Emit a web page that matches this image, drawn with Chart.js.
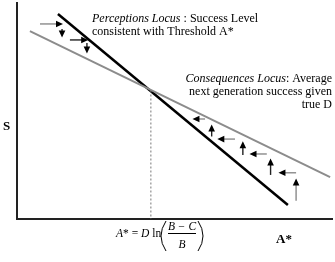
<!DOCTYPE html>
<html>
<head>
<meta charset="utf-8">
<script src="https://cdn.jsdelivr.net/npm/chart.js@4.4.1/dist/chart.umd.min.js"></script>
<style>
  html, body { margin: 0; padding: 0; background: #fff; }
  #wrap { width: 335px; height: 262px; position: relative; }
</style>
</head>
<body>
<div id="wrap"><canvas id="c"></canvas></div>
<script>
// axis range is abstract (0..100), the figure has no numeric ticks
const xRange = [0, 100];
const yRange = [0, 100];

// Perceptions locus (black) and consequences locus (gray)
const perceptX = [13.0, 86.0];
const perceptY = [94.9, 6.5];
const conseqX = [4.1, 99.4];
const conseqY = [87.0, 19.4];

// threshold A* (dotted drop line)
const thresholdX = [42.5, 42.5];
const thresholdY = [59.5, 0];

// arrows: [x0, y0, x1, y1, shaftGray]
const arrowsTop = [
  [7.3, 90.3, 14.6, 90.3, true],
  [14.3, 88.0, 14.3, 84.0, false],
  [16.8, 82.9, 22.6, 82.9, false],
  [22.2, 81.5, 22.2, 76.6, false],
];
const arrowsBottom = [
  [88.6, 8.5, 88.6, 18.8, true],
  [88.6, 21.4, 83.0, 21.4, true],
  [80.5, 20.4, 80.5, 28.0, false],
  [79.3, 30.1, 73.8, 30.1, true],
  [71.7, 29.6, 71.7, 36.0, false],
  [69.2, 37.0, 63.6, 37.0, true],
  [61.8, 38.2, 61.8, 43.8, false],
  [59.7, 46.3, 55.7, 46.3, true],
];

const serif = '"Liberation Serif", "DejaVu Serif", serif';

function pts(xs, ys) {
  return xs.map((x, i) => ({ x, y: ys[i] }));
}

function drawArrow(ctx, x0, y0, x1, y1, gray) {
  const ang = Math.atan2(y1 - y0, x1 - x0);
  const head = 7, half = 3.3;
  ctx.strokeStyle = gray ? '#8a8a8a' : '#222';
  ctx.lineWidth = 1.4;
  ctx.beginPath();
  ctx.moveTo(x0, y0);
  ctx.lineTo(x1 - Math.cos(ang) * head * 0.8, y1 - Math.sin(ang) * head * 0.8);
  ctx.stroke();
  ctx.fillStyle = '#000';
  ctx.beginPath();
  ctx.moveTo(x1, y1);
  ctx.lineTo(x1 - Math.cos(ang) * head - Math.sin(ang) * half, y1 - Math.sin(ang) * head + Math.cos(ang) * half);
  ctx.lineTo(x1 - Math.cos(ang) * head + Math.sin(ang) * half, y1 - Math.sin(ang) * head - Math.cos(ang) * half);
  ctx.closePath();
  ctx.fill();
}

function runs(ctx, parts, x, y, size) {
  // parts: [text, italic]
  let cx = x;
  parts.forEach(([t, it]) => {
    ctx.font = (it ? 'italic ' : '') + (size || 12) + 'px ' + serif;
    ctx.fillText(t, cx, y);
    cx += ctx.measureText(t).width;
  });
}

const annotations = {
  id: 'annotations',
  afterDatasetsDraw(chart) {
    const { ctx, scales: { x, y } } = chart;
    ctx.save();
    [...arrowsTop, ...arrowsBottom].forEach(([a, b, c, d, g]) => {
      drawArrow(ctx, x.getPixelForValue(a), y.getPixelForValue(b), x.getPixelForValue(c), y.getPixelForValue(d), g);
    });

    ctx.fillStyle = '#000';
    ctx.textBaseline = 'alphabetic';
    ctx.textAlign = 'left';
    runs(ctx, [['Perceptions Locus', true], [' : Success Level', false]], 92, 22);
    runs(ctx, [['consistent with Threshold A*', false]], 92, 35);

    // right-aligned consequences text
    ctx.font = 'italic 12px ' + serif;
    const w1 = ctx.measureText('Consequences Locus').width;
    ctx.font = '12px ' + serif;
    const w2 = ctx.measureText(': Average').width;
    runs(ctx, [['Consequences Locus', true], [': Average', false]], 332 - w1 - w2, 82);
    ctx.textAlign = 'right';
    ctx.fillText('next generation success given', 332, 95);
    ctx.fillText('true D', 332, 108);

    // axis titles
    ctx.textAlign = 'left';
    ctx.font = 'bold 13px ' + serif;
    ctx.fillText('S', 3, 130);
    ctx.fillText('A*', 276, 243);

    // threshold formula
    runs(ctx, [['A', true], ['* = ', false], ['D', true], [' ln', false]], 116, 237, 11.5);
    ctx.strokeStyle = '#000';
    ctx.lineWidth = 1;
    ctx.beginPath();
    ctx.moveTo(166, 221);
    ctx.quadraticCurveTo(156, 236, 166, 251);
    ctx.moveTo(198, 221);
    ctx.quadraticCurveTo(208, 236, 198, 251);
    ctx.stroke();
    ctx.font = 'italic 11.5px ' + serif;
    ctx.textAlign = 'center';
    ctx.fillText('B \u2212 C', 182, 230);
    ctx.fillText('B', 182, 248);
    ctx.beginPath();
    ctx.moveTo(168, 233.5);
    ctx.lineTo(196, 233.5);
    ctx.stroke();
    ctx.restore();
  }
};

new Chart(document.getElementById('c'), {
  type: 'scatter',
  data: {
    datasets: [
      {
        data: pts(thresholdX, thresholdY),
        showLine: true,
        borderColor: '#777',
        borderWidth: 1,
        borderDash: [2, 2],
        pointRadius: 0,
      },
      {
        data: pts(conseqX, conseqY),
        showLine: true,
        borderColor: '#8c8c8c',
        borderWidth: 2,
        pointRadius: 0,
      },
      {
        data: pts(perceptX, perceptY),
        showLine: true,
        borderColor: '#000',
        borderWidth: 2.5,
        pointRadius: 0,
      },
    ],
  },
  options: {
    responsive: true,
    maintainAspectRatio: false,
    animation: false,
    layout: { padding: { left: 9, right: 3, top: 3, bottom: 35 } },
    plugins: { legend: { display: false }, tooltip: { enabled: false } },
    scales: {
      x: {
        type: 'linear', min: xRange[0], max: xRange[1],
        grid: { display: false },
        border: { display: true, color: '#222', width: 2 },
        ticks: { display: false },
      },
      y: {
        type: 'linear', min: yRange[0], max: yRange[1],
        grid: { display: false },
        border: { display: true, color: '#222', width: 2 },
        ticks: { display: false },
      },
    },
  },
  plugins: [annotations],
});
</script>
</body>
</html>
